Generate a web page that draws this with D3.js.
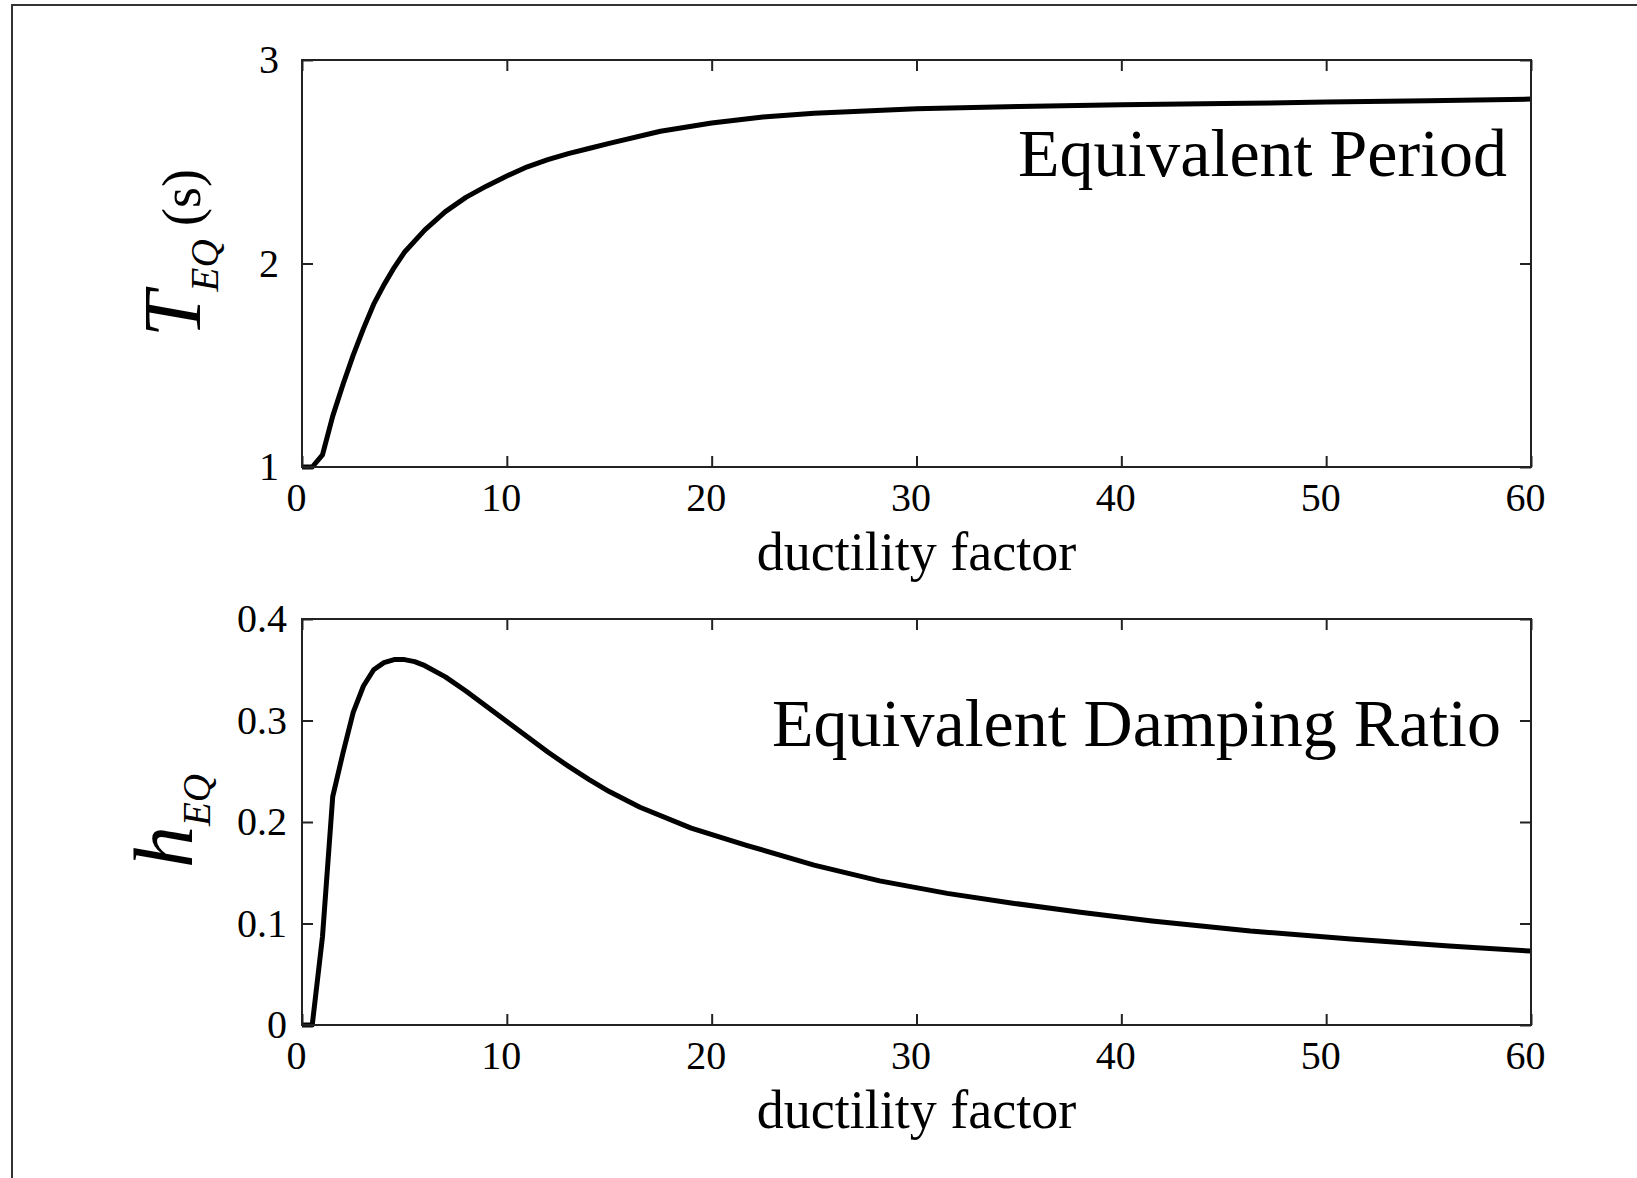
<!DOCTYPE html>
<html>
<head>
<meta charset="utf-8">
<script src="https://cdn.jsdelivr.net/npm/d3@7"></script>
<style>
  body { margin: 0; background: #fff; }
  svg { display: block; font-family: "Liberation Serif", "Times New Roman", serif; }
</style>
</head>
<body>
<svg id="chart" width="1637" height="1178"></svg>
<script>
// values
const periodMu = [0, 0.5, 1, 1.5, 2, 2.5, 3, 3.5, 4, 4.5, 5, 6, 7, 8, 9, 10, 11, 12, 13, 14, 15, 17.5, 20, 22.5, 25, 30, 35, 40, 45, 50, 55, 60];
const periodT = [1.0, 1.0, 1.06, 1.25, 1.405, 1.55, 1.68, 1.8, 1.895, 1.98, 2.055, 2.165, 2.255, 2.325, 2.38, 2.43, 2.475, 2.51, 2.54, 2.565, 2.59, 2.65, 2.69, 2.72, 2.738, 2.76, 2.772, 2.78, 2.786, 2.793, 2.8, 2.808];

const dampMu = [0, 0.5, 1, 1.5, 2, 2.5, 3, 3.5, 4, 4.5, 5, 5.5, 6, 7, 8, 9, 10, 11, 12, 13, 14, 15, 16.5, 19, 21.7, 25, 28.2, 31.5, 34.7, 38, 41.5, 46.3, 51.2, 56, 60];
const dampH = [0, 0, 0.087, 0.225, 0.268, 0.308, 0.334, 0.35, 0.357, 0.36, 0.36, 0.358, 0.354, 0.343, 0.329, 0.314, 0.299, 0.284, 0.269, 0.255, 0.242, 0.23, 0.2145, 0.194, 0.177, 0.1575, 0.142, 0.1297, 0.12, 0.111, 0.1025, 0.0926, 0.0847, 0.0778, 0.0728];

const muTicks = [0, 10, 20, 30, 40, 50, 60];
const periodTicks = [1, 2, 3];
const dampTicks = [0, 0.1, 0.2, 0.3, 0.4];

const svg = d3.select("#chart");

// outer frame (only left and top edges are inside the picture)
svg.append("path")
    .attr("d", "M12,1178V5H1637")
    .attr("fill", "none")
    .attr("stroke", "#333")
    .attr("stroke-width", 2);

const left = 302, right = 1531;

function drawPanel(opts) {
    const w = right - left;
    const h = opts.bottom - opts.top;
    const g = svg.append("g").attr("transform", `translate(${left},${opts.top})`);

    const x = d3.scaleLinear().domain([0, 60]).range([0, w]);
    const y = d3.scaleLinear().domain(opts.yDomain).range([h, 0]);

    // curve
    const line = d3.line()
        .x(d => x(d[0]))
        .y(d => y(d[1]));
    g.append("path")
        .datum(d3.zip(opts.xs, opts.ys))
        .attr("d", line)
        .attr("fill", "none")
        .attr("stroke", "#000")
        .attr("stroke-width", 5)
        .attr("stroke-linejoin", "round");

    // axes, ticks pointing inward on all four sides
    const bottomAx = g.append("g").attr("transform", `translate(0,${h})`)
        .call(d3.axisBottom(x).tickValues(muTicks).tickSizeInner(-11).tickSizeOuter(0).tickPadding(16));
    bottomAx.selectAll("text").attr("x", -6);

    g.append("g")
        .call(d3.axisTop(x).tickValues(muTicks).tickSizeInner(-11).tickSizeOuter(0).tickFormat(""));

    g.append("g")
        .call(d3.axisLeft(y).tickValues(opts.yTicks).tickSizeInner(-11).tickSizeOuter(0)
            .tickPadding(opts.yPad).tickFormat(d3.format(opts.yFmt)));

    g.append("g").attr("transform", `translate(${w},0)`)
        .call(d3.axisRight(y).tickValues(opts.yTicks).tickSizeInner(-11).tickSizeOuter(0).tickFormat(""));

    g.selectAll(".domain").remove();
    g.selectAll(".tick line").attr("stroke", "#222").attr("stroke-width", 2);
    g.selectAll(".tick text")
        .attr("font-family", "Liberation Serif")
        .attr("font-size", 40)
        .attr("fill", "#000");

    g.append("rect")
        .attr("width", w)
        .attr("height", h)
        .attr("fill", "none")
        .attr("stroke", "#222")
        .attr("stroke-width", 2);

    // panel title
    g.append("text")
        .attr("x", opts.titleX - left)
        .attr("y", opts.titleY - opts.top)
        .attr("text-anchor", "end")
        .attr("font-size", 68)
        .text(opts.title);

    // x axis label
    g.append("text")
        .attr("x", w / 2)
        .attr("y", h + 103)
        .attr("text-anchor", "middle")
        .attr("font-size", 54)
        .text("ductility factor");

    // y axis label (rotated, italic symbol with subscript)
    const yl = svg.append("text")
        .attr("transform", `translate(${opts.labelX},${opts.labelY}) rotate(-90)`)
        .attr("text-anchor", "middle");
    yl.append("tspan")
        .attr("font-style", "italic")
        .attr("font-size", opts.symSize)
        .text(opts.symbol);
    yl.append("tspan")
        .attr("font-style", "italic")
        .attr("font-size", 39)
        .attr("dy", 18)
        .text("EQ");
    if (opts.unit) {
        yl.append("tspan")
            .attr("font-size", 54)
            .attr("dy", -18)
            .text(" " + opts.unit);
    }
}

drawPanel({
    top: 60, bottom: 467,
    xs: periodMu, ys: periodT,
    yDomain: [1, 3], yTicks: periodTicks, yFmt: "d", yPad: 23,
    title: "Equivalent Period", titleX: 1507, titleY: 176,
    symbol: "T", symSize: 82, unit: "(s)",
    labelX: 200, labelY: 253
});

drawPanel({
    top: 619, bottom: 1025,
    xs: dampMu, ys: dampH,
    yDomain: [0, 0.4], yTicks: dampTicks, yFmt: "", yPad: 15,
    title: "Equivalent Damping Ratio", titleX: 1501, titleY: 746,
    symbol: "h", symSize: 84, unit: null,
    labelX: 192, labelY: 821
});
</script>
</body>
</html>
